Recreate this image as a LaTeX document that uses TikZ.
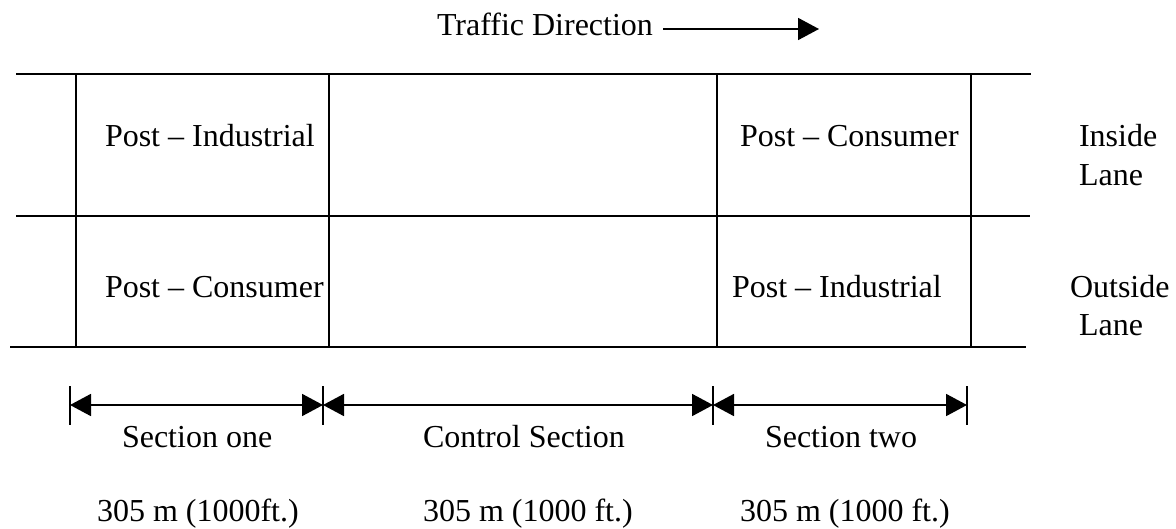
\documentclass[tikz,border=0pt]{standalone}
\usepackage{fontspec}
\setmainfont{Liberation Serif}
\usetikzlibrary{arrows.meta}
\begin{document}
\begin{tikzpicture}[x=0.5pt,y=-0.5pt,
  lbl/.style={anchor=base west,inner sep=0pt,outer sep=0pt,font=\fontsize{16pt}{19pt}\selectfont},
  road/.style={line width=1pt},
  joint/.style={line width=0.7pt},
  tick/.style={line width=0.8pt},
  dim/.style={line width=0.9pt,{Triangle[length=10.5pt,width=11pt]}-{Triangle[length=10.5pt,width=11pt]}},
  dir/.style={line width=0.9pt,-{Triangle[length=10.5pt,width=11pt]}}]
\useasboundingbox (0,0) rectangle (1176,529);

% traffic direction
\node[lbl] (traffic) at (437,36) {Traffic Direction};
\coordinate (dirA) at (663,29);
\coordinate (dirB) at (819,29);
\draw[dir] (dirA) -- (dirB);

% lane edges
\coordinate (topL) at (16,74);   \coordinate (topR) at (1031,74);
\coordinate (midL) at (16,216);  \coordinate (midR) at (1030,216);
\coordinate (botL) at (10,347);  \coordinate (botR) at (1026,347);
\draw[road] (topL) -- (topR);
\draw[road] (midL) -- (midR);
\draw[road] (botL) -- (botR);

% section joints
\foreach \x/\n in {76/a,329/b,717/c,971/d}{
  \coordinate (j\n t) at (\x,74);
  \coordinate (j\n b) at (\x,347);
  \draw[joint] (j\n t) -- (j\n b);
}

% section contents
\node[lbl] (pi1) at (105,147) {Post -- Industrial};
\node[lbl] (pc2) at (740,147) {Post -- Consumer};
\node[lbl] (pc1) at (105,297) {Post -- Consumer};
\node[lbl] (pi2) at (732,297) {Post -- Industrial};

% lane names
\node[lbl] (in1) at (1079,147) {Inside};
\node[lbl] (in2) at (1079,185) {Lane};
\node[lbl] (out1) at (1070,297) {Outside};
\node[lbl] (out2) at (1079,335) {Lane};

% dimension line
\foreach \x/\n in {70/1,323/2,713/3,967/4}{
  \coordinate (d\n) at (\x,405);
  \coordinate (d\n t) at (\x,386);
  \coordinate (d\n b) at (\x,425);
  \draw[tick] (d\n t) -- (d\n b);
}
\draw[dim] (d1) -- (d2);
\draw[dim] (d2) -- (d3);
\draw[dim] (d3) -- (d4);

\node[lbl] (s1) at (122,447) {Section one};
\node[lbl] (s0) at (423,447) {Control Section};
\node[lbl] (s2) at (765,447) {Section two};

\node[lbl] (l1) at (97,521) {305 m (1000ft.)};
\node[lbl] (l0) at (423,521) {305 m (1000 ft.)};
\node[lbl] (l2) at (740,521) {305 m (1000 ft.)};
\end{tikzpicture}
\end{document}
